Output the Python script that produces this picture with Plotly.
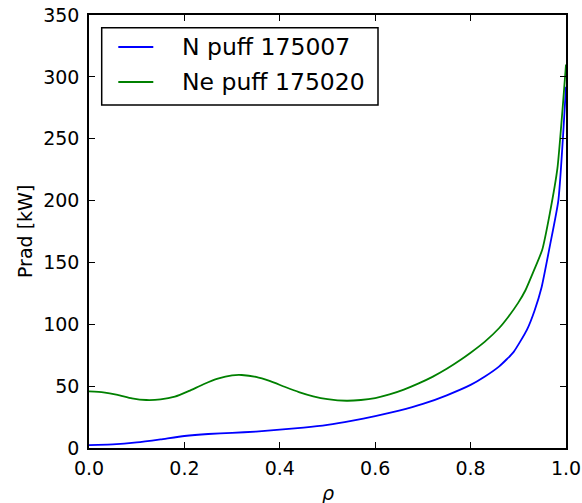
import plotly.graph_objects as go

# Radiated power profiles vs normalised radius
rho_n = [0.0, 0.05, 0.10, 0.15, 0.20, 0.25, 0.30, 0.35, 0.40, 0.45, 0.50,
         0.55, 0.60, 0.65, 0.70, 0.75, 0.80, 0.83, 0.86, 0.89, 0.918,
         0.934, 0.949, 0.966, 0.984, 1.0]
prad_n = [2.4, 2.9, 4.5, 7.0, 9.7, 11.3, 12.2, 13.3, 14.9, 16.5, 18.7,
          21.9, 25.8, 30.2, 35.6, 42.6, 51.0, 57.8, 66.0, 77.5, 95.5,
          111.0, 130.2, 163.0, 200.2, 292.0]

rho_ne = [0.0, 0.03, 0.06, 0.09, 0.12, 0.15, 0.18, 0.21, 0.24, 0.27, 0.30,
          0.32, 0.35, 0.38, 0.41, 0.44, 0.47, 0.50, 0.54, 0.57, 0.60, 0.63,
          0.66, 0.69, 0.72, 0.75, 0.78, 0.80, 0.83, 0.86, 0.88, 0.90, 0.915,
          0.93, 0.95, 0.966, 0.982, 1.0]
prad_ne = [45.8, 45.0, 43.0, 40.2, 38.8, 39.3, 41.5, 46.2, 51.5, 56.0, 58.7,
           59.0, 57.5, 54.0, 49.5, 45.2, 41.8, 39.5, 38.2, 38.8, 40.4, 43.3,
           47.2, 52.0, 57.5, 64.0, 71.5, 77.0, 86.0, 97.0, 106.5, 117.5, 127.5,
           141.0, 160.0, 189.5, 226.0, 310.0]

names = ["N puff 175007", "Ne puff 175020"]
colors = ["#0000ff", "#008000"]

x_ticks = [0, 0.2, 0.4, 0.6, 0.8, 1.0]
x_ticktext = ["0.0", "0.2", "0.4", "0.6", "0.8", "1.0"]
y_ticks = [0, 50, 100, 150, 200, 250, 300, 350]

FONT = "DejaVu Sans"
W, H = 582, 503
ML, MR, MT, MB = 89, 16, 15, 55
PW, PH = W - ML - MR, H - MT - MB


def px(x):
    """Pixel column -> paper x."""
    return (x - ML) / PW


def py(y):
    """Pixel row -> paper y."""
    return (H - MB - y) / PH


fig = go.Figure()
for xs, ys, nm, col in [(rho_n, prad_n, names[0], colors[0]),
                        (rho_ne, prad_ne, names[1], colors[1])]:
    fig.add_trace(go.Scatter(x=xs, y=ys, mode="lines", name=nm,
                             line=dict(color=col, width=1.8,
                                       shape="spline", smoothing=0.5),
                             showlegend=False))

axis_common = dict(
    showgrid=False, zeroline=False, showline=True, linecolor="black",
    linewidth=1.6, mirror="ticks", ticks="inside", ticklen=6,
    tickcolor="black", tickwidth=1, automargin=False,
    tickfont=dict(family=FONT, size=19, color="black"),
)

# Boxed legend in the upper-left corner of the axes
shapes = [dict(type="rect", xref="paper", yref="paper",
               x0=px(101.7), x1=px(378), y0=py(105), y1=py(27.7),
               line=dict(color="black", width=1.5), fillcolor="white",
               layer="above")]
annotations = []
for i, (nm, col) in enumerate(zip(names, colors)):
    row_y = 47 + 35 * i
    shapes.append(dict(type="line", xref="paper", yref="paper",
                       x0=px(118.3), x1=px(153.3), y0=py(row_y), y1=py(row_y),
                       line=dict(color=col, width=1.8), layer="above"))
    annotations.append(dict(text=nm, xref="paper", yref="paper",
                            x=px(180), y=py(row_y), xanchor="left",
                            yanchor="middle", showarrow=False,
                            font=dict(family=FONT, size=23.5, color="black")))

# Axis titles
annotations.append(dict(text="<i>ρ</i>", xref="paper", yref="paper",
                        x=0.5, y=py(493), xanchor="center", yanchor="middle",
                        showarrow=False,
                        font=dict(family=FONT, size=19, color="black")))
annotations.append(dict(text="Prad [kW]", xref="paper", yref="paper",
                        x=px(24.5), y=0.5, xanchor="center", yanchor="middle",
                        textangle=-90, showarrow=False,
                        font=dict(family=FONT, size=19, color="black")))

fig.update_layout(
    width=W, height=H,
    margin=dict(l=ML, r=MR, t=MT, b=MB, autoexpand=False),
    paper_bgcolor="white", plot_bgcolor="white",
    font=dict(family=FONT, color="black"),
    xaxis=dict(range=[0, 1], tickvals=x_ticks, ticktext=x_ticktext,
               ticklabelstandoff=2, **axis_common),
    yaxis=dict(range=[0, 350], tickvals=y_ticks, ticklabelstandoff=4,
               **axis_common),
    shapes=shapes,
    annotations=annotations,
    showlegend=False,
)

fig.write_html("out.html")
